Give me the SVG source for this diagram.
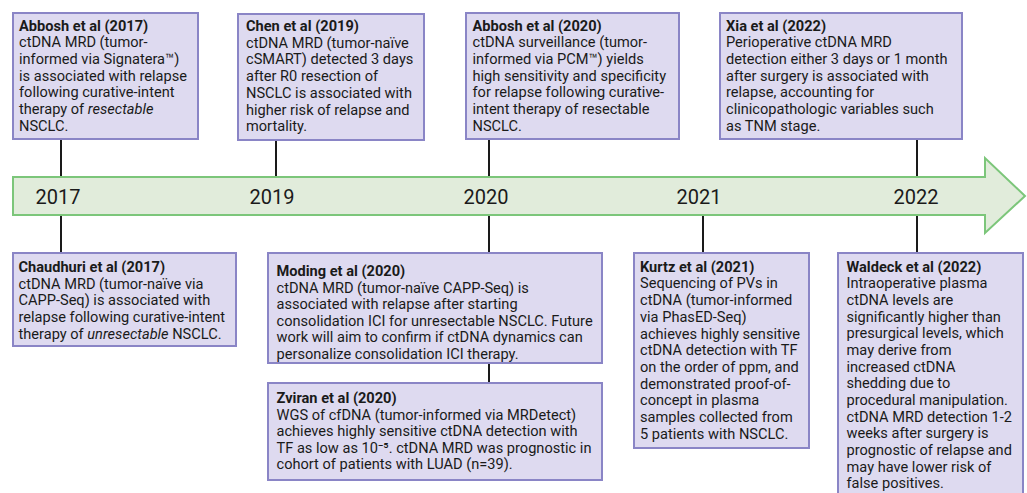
<svg xmlns="http://www.w3.org/2000/svg" width="1027" height="493" viewBox="0 0 1027 493">
<style>
.box{fill:#dedaf0;stroke:#8a85c6;stroke-width:2}
.t{font-family:Roboto,"Liberation Sans",sans-serif;font-size:14.6px;fill:#1a1a1a}
.b{font-weight:bold}
.i{font-style:italic}
.yr{font-family:Roboto,"Liberation Sans",sans-serif;font-size:20px;fill:#1a1a1a;text-anchor:middle}
.con{stroke:#1a1a1a;stroke-width:2;fill:none}
</style>
<rect width="1027" height="493" fill="#ffffff"/>
<g id="connectors">
<line class="con" x1="61" y1="139" x2="61" y2="178"/>
<line class="con" x1="61" y1="214" x2="61" y2="253"/>
<line class="con" x1="276" y1="140" x2="276" y2="178"/>
<line class="con" x1="489" y1="139" x2="489" y2="178"/>
<line class="con" x1="489" y1="214" x2="489" y2="253"/>
<line class="con" x1="489" y1="363" x2="489" y2="383"/>
<line class="con" x1="703" y1="214" x2="703" y2="253"/>
<line class="con" x1="917" y1="139" x2="917" y2="178"/>
<line class="con" x1="917" y1="214" x2="917" y2="253"/>
</g>
<g id="timeline">
<path d="M13,177 H985 V158 L1025,196 L985,233 V215 H13 Z" fill="#e1ecdb" stroke="#7cc67a" stroke-width="2"/>
<text class="yr" x="58" y="204">2017</text>
<text class="yr" x="272" y="204">2019</text>
<text class="yr" x="486" y="204">2020</text>
<text class="yr" x="699" y="204">2021</text>
<text class="yr" x="916" y="204">2022</text>
</g>
<g id="abbosh2017">
<rect class="box" x="13" y="13" width="185" height="126"/>
<text class="t" x="19" y="30.5"><tspan class="b">Abbosh et al (2017)</tspan><tspan x="19" dy="16.7">ctDNA MRD (tumor-</tspan><tspan x="19" dy="16.7">informed via Signatera™)</tspan><tspan x="19" dy="16.7">is associated with relapse</tspan><tspan x="19" dy="16.7">following curative-intent</tspan><tspan x="19" dy="16.7">therapy of <tspan class="i">resectable</tspan></tspan><tspan x="19" dy="16.7">NSCLC.</tspan></text>
</g>
<g id="chen2019">
<rect class="box" x="238" y="14" width="186" height="126"/>
<text class="t" x="246" y="31"><tspan class="b">Chen et al (2019)</tspan><tspan x="246" dy="16.7">ctDNA MRD (tumor-naïve</tspan><tspan x="246" dy="16.7">cSMART) detected 3 days</tspan><tspan x="246" dy="16.7">after R0 resection of</tspan><tspan x="246" dy="16.7">NSCLC is associated with</tspan><tspan x="246" dy="16.7">higher risk of relapse and</tspan><tspan x="246" dy="16.7">mortality.</tspan></text>
</g>
<g id="abbosh2020">
<rect class="box" x="466" y="13" width="213" height="126"/>
<text class="t" x="472.5" y="30.5"><tspan class="b">Abbosh et al (2020)</tspan><tspan x="472.5" dy="16.7">ctDNA surveillance (tumor-</tspan><tspan x="472.5" dy="16.7">informed via PCM™) yields</tspan><tspan x="472.5" dy="16.7">high sensitivity and specificity</tspan><tspan x="472.5" dy="16.7">for relapse following curative-</tspan><tspan x="472.5" dy="16.7">intent therapy of resectable</tspan><tspan x="472.5" dy="16.7">NSCLC.</tspan></text>
</g>
<g id="xia2022">
<rect class="box" x="720" y="13" width="242" height="126"/>
<text class="t" x="726" y="30.5"><tspan class="b">Xia et al (2022)</tspan><tspan x="726" dy="16.7">Perioperative ctDNA MRD</tspan><tspan x="726" dy="16.7">detection either 3 days or 1 month</tspan><tspan x="726" dy="16.7">after surgery is associated with</tspan><tspan x="726" dy="16.7">relapse, accounting for</tspan><tspan x="726" dy="16.7">clinicopathologic variables such</tspan><tspan x="726" dy="16.7">as TNM stage.</tspan></text>
</g>
<g id="chaudhuri2017">
<rect class="box" x="13" y="253" width="223" height="93"/>
<text class="t" x="18.5" y="272"><tspan class="b">Chaudhuri et al (2017)</tspan><tspan x="18.5" dy="16.7">ctDNA MRD (tumor-naïve via</tspan><tspan x="18.5" dy="16.7">CAPP-Seq) is associated with</tspan><tspan x="18.5" dy="16.7">relapse following curative-intent</tspan><tspan x="18.5" dy="16.7">therapy of <tspan class="i">unresectable</tspan> NSCLC.</tspan></text>
</g>
<g id="moding2020">
<rect class="box" x="268" y="253" width="334" height="110"/>
<text class="t" x="276.5" y="276"><tspan class="b">Moding et al (2020)</tspan><tspan x="276.5" dy="16.5">ctDNA MRD (tumor-naïve CAPP-Seq) is</tspan><tspan x="276.5" dy="16.5">associated with relapse after starting</tspan><tspan x="276.5" dy="16.5">consolidation ICI for unresectable NSCLC. Future</tspan><tspan x="276.5" dy="16.5">work will aim to confirm if ctDNA dynamics can</tspan><tspan x="276.5" dy="16.5">personalize consolidation ICI therapy.</tspan></text>
</g>
<g id="zviran2020">
<rect class="box" x="268" y="383" width="334" height="97"/>
<text class="t" x="276.5" y="403"><tspan class="b">Zviran et al (2020)</tspan><tspan x="276.5" dy="16.5">WGS of cfDNA (tumor-informed via MRDetect)</tspan><tspan x="276.5" dy="16.5">achieves highly sensitive ctDNA detection with</tspan><tspan x="276.5" dy="16.5">TF as low as 10⁻⁵. ctDNA MRD was prognostic in</tspan><tspan x="276.5" dy="16.5">cohort of patients with LUAD (n=39).</tspan></text>
</g>
<g id="kurtz2021">
<rect class="box" x="634" y="253" width="175" height="195"/>
<text class="t" x="640" y="271.7"><tspan class="b">Kurtz et al (2021)</tspan><tspan x="640" dy="16.7">Sequencing of PVs in</tspan><tspan x="640" dy="16.7">ctDNA (tumor-informed</tspan><tspan x="640" dy="16.7">via PhasED-Seq)</tspan><tspan x="640" dy="16.7">achieves highly sensitive</tspan><tspan x="640" dy="16.7">ctDNA detection with TF</tspan><tspan x="640" dy="16.7">on the order of ppm, and</tspan><tspan x="640" dy="16.7">demonstrated proof-of-</tspan><tspan x="640" dy="16.7">concept in plasma</tspan><tspan x="640" dy="16.7">samples collected from</tspan><tspan x="640" dy="16.7">5 patients with NSCLC.</tspan></text>
</g>
<g id="waldeck2022">
<rect class="box" x="838" y="253" width="185" height="250"/>
<text class="t" x="846.5" y="271.7"><tspan class="b">Waldeck et al (2022)</tspan><tspan x="846.5" dy="16.67">Intraoperative plasma</tspan><tspan x="846.5" dy="16.67">ctDNA levels are</tspan><tspan x="846.5" dy="16.67">significantly higher than</tspan><tspan x="846.5" dy="16.67">presurgical levels, which</tspan><tspan x="846.5" dy="16.67">may derive from</tspan><tspan x="846.5" dy="16.67">increased ctDNA</tspan><tspan x="846.5" dy="16.67">shedding due to</tspan><tspan x="846.5" dy="16.67">procedural manipulation.</tspan><tspan x="846.5" dy="16.67">ctDNA MRD detection 1-2</tspan><tspan x="846.5" dy="16.67">weeks after surgery is</tspan><tspan x="846.5" dy="16.67">prognostic of relapse and</tspan><tspan x="846.5" dy="16.67">may have lower risk of</tspan><tspan x="846.5" dy="16.67">false positives.</tspan></text>
</g>
</svg>
